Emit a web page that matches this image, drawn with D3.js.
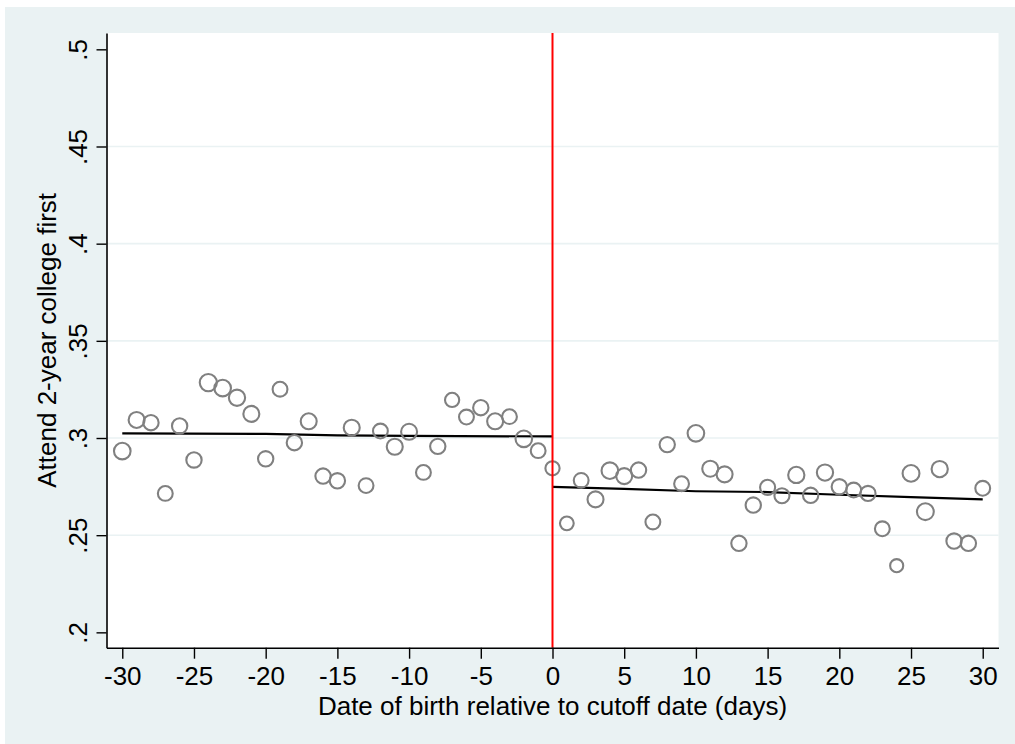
<!DOCTYPE html>
<html>
<head>
<meta charset="utf-8">
<script src="https://cdn.jsdelivr.net/npm/d3@7"></script>
<style>
  html, body { margin: 0; padding: 0; background: #ffffff; }
  svg { display: block; }
  text { font-family: "Liberation Sans", Arial, sans-serif; fill: #000; }
</style>
</head>
<body>
<svg id="chart" width="1015" height="744"></svg>
<script>
// ---- data ----
const days = d3.range(-30, 31);
const attendShare = [
  0.2933, 0.3093, 0.3079, 0.2715, 0.3062, 0.2887, 0.3285, 0.3257, 0.3207, 0.3124,
  0.2893, 0.3251, 0.2976, 0.3086, 0.2804, 0.2780, 0.3053, 0.2755, 0.3036, 0.2955,
  0.3032, 0.2823, 0.2957, 0.3196, 0.3108, 0.3156, 0.3086, 0.3110, 0.2996, 0.2935,
  0.2844,
  0.2561, 0.2782, 0.2684, 0.2832, 0.2804, 0.2835, 0.2568, 0.2966, 0.2765, 0.3024,
  0.2842, 0.2813, 0.2458, 0.2655, 0.2746, 0.2703, 0.2810, 0.2705, 0.2822, 0.2749,
  0.2732, 0.2715, 0.2533, 0.2343, 0.2818, 0.2621, 0.2840, 0.2470, 0.2458, 0.2741
];
// relative marker weights
const markerWeight = [
  1.08, 1.00, 0.92, 0.86, 0.92, 0.92, 1.15, 1.08, 1.03, 1.00,
  0.92, 0.86, 0.92, 1.00, 0.92, 0.92, 1.00, 0.86, 0.86, 1.00,
  1.00, 0.86, 0.92, 0.79, 0.86, 0.92, 1.00, 0.86, 1.08, 0.86,
  0.79,
  0.74, 0.86, 1.00, 1.08, 1.00, 0.92, 0.86, 0.92, 0.86, 1.08,
  1.00, 1.00, 0.92, 0.92, 0.89, 0.89, 1.03, 0.92, 1.03, 0.92,
  0.86, 0.89, 0.86, 0.67, 1.11, 1.11, 1.03, 0.92, 0.92, 0.86
];
const leftFit = [[-30, 0.3024], [-20, 0.3021], [-15, 0.3014], [-10, 0.3011], [0, 0.3008]];
const rightFit = [[0, 0.2749], [5, 0.2738], [10, 0.2726], [15, 0.2722], [20, 0.2708], [25, 0.2696], [30, 0.2684]];
const cutoff = 0;
const xTicks = [-30, -25, -20, -15, -10, -5, 0, 5, 10, 15, 20, 25, 30];
const yTicks = [0.2, 0.25, 0.3, 0.35, 0.4, 0.45, 0.5];
const yGridTicks = [0.25, 0.3, 0.35, 0.4, 0.45];
const xTitle = "Date of birth relative to cutoff date (days)";
const yTitle = "Attend 2-year college first";

// ---- layout ----
const svg = d3.select("#chart");
const plot = { left: 106.5, right: 998.5, top: 33, bottom: 647.7 };
const x = d3.scaleLinear().domain([-31.1, 31.1]).range([plot.left, plot.right]);
const y = d3.scaleLinear().domain([0.1921, 0.5084]).range([plot.bottom, plot.top]);
const r = d3.scaleSqrt().domain([0, 1]).range([0, 8]);
const fmtY = v => d3.format(".2~f")(v).replace(/^0\./, ".");
const fmtX = v => String(v);
const FS = "26px";

// background
svg.append("rect").attr("x", 5).attr("y", 7).attr("width", 1010).attr("height", 737).attr("fill", "#eaf2f3");
svg.append("rect").attr("x", plot.left).attr("y", plot.top)
  .attr("width", plot.right - plot.left).attr("height", plot.bottom - plot.top).attr("fill", "#ffffff");

// gridlines
svg.append("g").selectAll("line").data(yGridTicks).join("line")
  .attr("x1", plot.left).attr("x2", plot.right)
  .attr("y1", d => y(d)).attr("y2", d => y(d))
  .attr("stroke", "#eaf2f3").attr("stroke-width", 1.6);

// fit lines
const line = d3.line().x(d => x(d[0])).y(d => y(d[1]));
svg.append("path").datum(leftFit).attr("d", line).attr("fill", "none").attr("stroke", "#000").attr("stroke-width", 2.2);
svg.append("path").datum(rightFit).attr("d", line).attr("fill", "none").attr("stroke", "#000").attr("stroke-width", 2.2);

// points
svg.append("g").selectAll("circle").data(days).join("circle")
  .attr("cx", (d, i) => x(d)).attr("cy", (d, i) => y(attendShare[i]))
  .attr("r", (d, i) => r(markerWeight[i]))
  .attr("fill", "none").attr("stroke", "#808080").attr("stroke-width", 2.1);

// cutoff line
svg.append("line").attr("x1", x(cutoff)).attr("x2", x(cutoff))
  .attr("y1", plot.top).attr("y2", plot.bottom)
  .attr("stroke", "#ff0000").attr("stroke-width", 2);

// axes
const xAxis = svg.append("g").attr("transform", `translate(0,${plot.bottom})`)
  .call(d3.axisBottom(x).tickValues(xTicks).tickSize(11).tickSizeOuter(0).tickFormat(fmtX));
xAxis.select(".domain").attr("stroke", "#000").attr("stroke-width", 1.6);
xAxis.selectAll(".tick line").attr("stroke", "#000").attr("stroke-width", 1.4);
xAxis.selectAll(".tick text").attr("y", 37.5).attr("dy", null)
  .style("font-size", FS).attr("fill", "#000");

const yAxis = svg.append("g").attr("transform", `translate(${plot.left},0)`)
  .call(d3.axisLeft(y).tickValues(yTicks).tickSize(10).tickSizeOuter(0).tickFormat(fmtY));
yAxis.select(".domain").attr("stroke", "#000").attr("stroke-width", 1.6);
yAxis.selectAll(".tick line").attr("stroke", "#000").attr("stroke-width", 1.4);
yAxis.selectAll(".tick text")
  .attr("x", 0).attr("dy", null).attr("y", -20)
  .attr("transform", "rotate(-90)")
  .attr("text-anchor", "middle")
  .style("font-size", FS).attr("fill", "#000");

// titles
svg.append("text").attr("x", (plot.left + plot.right) / 2).attr("y", 714.5)
  .attr("text-anchor", "middle").style("font-size", FS).text(xTitle);
svg.append("text")
  .attr("transform", `translate(56,${(plot.top + plot.bottom) / 2}) rotate(-90)`)
  .attr("text-anchor", "middle").style("font-size", FS).text(yTitle);
</script>
</body>
</html>
